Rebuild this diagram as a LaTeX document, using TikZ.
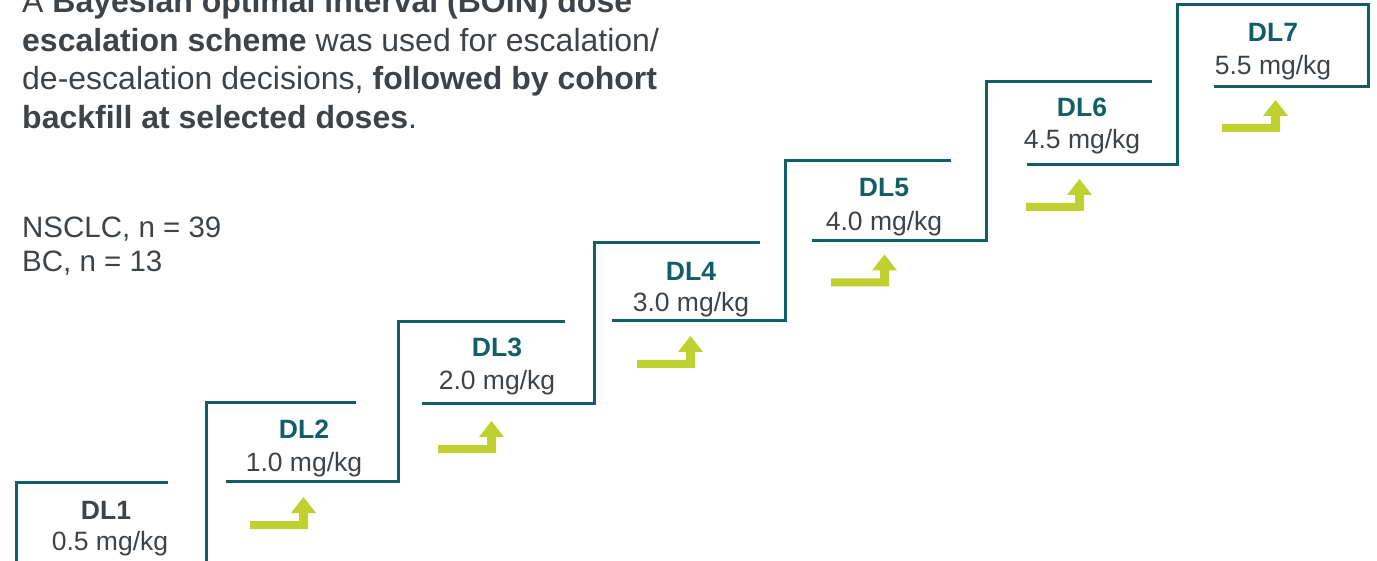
\documentclass[tikz,border=0pt]{standalone}
\usepackage{fontspec}
\setmainfont{Liberation Sans}
\definecolor{teal1}{HTML}{125E66}
\definecolor{gray1}{HTML}{3E4347}
\definecolor{lime1}{HTML}{BFD031}
\begin{document}
\begin{tikzpicture}[x=1pt,y=-1pt,
  stair/.style={draw=teal1,line width=3pt,line join=miter},
  dlname/.style={anchor=base,inner sep=0pt,text=teal1,font=\fontsize{26.5}{30}\selectfont\bfseries},
  dldose/.style={anchor=base,inner sep=0pt,text=gray1,font=\fontsize{26.5}{30}\selectfont},
  head/.style={anchor=base west,inner sep=0pt,text=gray1,font=\fontsize{32}{38}\selectfont},
  cohort/.style={anchor=base west,inner sep=0pt,text=gray1,font=\fontsize{29.5}{35}\selectfont},
  uparrow/.pic={\fill[lime1] (0,-4) -- (49,-4) -- (49,-12) -- (41,-12) -- (53.5,-28) -- (66,-12) -- (58,-12) -- (58,4) -- (0,4) -- cycle;}]
\useasboundingbox (0,0) rectangle (1377,561);
% header text
\node[head] (h1) at (22,13) {A \textbf{Bayesian optimal interval (BOIN) dose}};
\node[head] (h2) at (22,51.5) {\textbf{escalation scheme} was used for escalation/};
\node[head] (h3) at (22,90) {de-escalation decisions, \textbf{followed by cohort}};
\node[head] (h4) at (22,128.5) {\textbf{backfill at selected doses}.};
\node[cohort] (c1) at (22,237.5) {NSCLC, n = 39};
\node[cohort] (c2) at (22,272) {BC, n = 13};
% staircase
\path[stair] (16,562) -- (16,482) -- (168,482);
\path[stair] (206,562) -- (206,403) -- (356,403);
\path[stair] (226,481) -- (398,481) -- (398,322) -- (565,322);
\path[stair] (422,404) -- (594,404) -- (594,243) -- (760,243);
\path[stair] (612,321) -- (785,321) -- (785,161) -- (951,161);
\path[stair] (812,241) -- (986,241) -- (986,82) -- (1152,82);
\path[stair] (1027,165) -- (1177,165) -- (1177,5) -- (1368,5) -- (1368,87) -- (1214,87);
% labels
\node[dlname,text=gray1] (dl1) at (106,519) {DL1};
\node[dldose] (d1) at (110,550) {0.5 mg/kg};
\node[dlname] (dl2) at (304,438.5) {DL2};
\node[dldose] (d2) at (304,471) {1.0 mg/kg};
\node[dlname] (dl3) at (497,357) {DL3};
\node[dldose] (d3) at (497,389) {2.0 mg/kg};
\node[dlname] (dl4) at (691,281) {DL4};
\node[dldose] (d4) at (691,312) {3.0 mg/kg};
\node[dlname] (dl5) at (884,197) {DL5};
\node[dldose] (d5) at (884,231) {4.0 mg/kg};
\node[dlname] (dl6) at (1082,117) {DL6};
\node[dldose] (d6) at (1082,149) {4.5 mg/kg};
\node[dlname] (dl7) at (1273,42) {DL7};
\node[dldose] (d7) at (1273,74.5) {5.5 mg/kg};
% arrows
\pic at (250,525) {uparrow};
\pic at (438,449) {uparrow};
\pic at (637,364) {uparrow};
\pic at (831,282.5) {uparrow};
\pic at (1026,207) {uparrow};
\pic at (1222,128) {uparrow};
\end{tikzpicture}
\end{document}
